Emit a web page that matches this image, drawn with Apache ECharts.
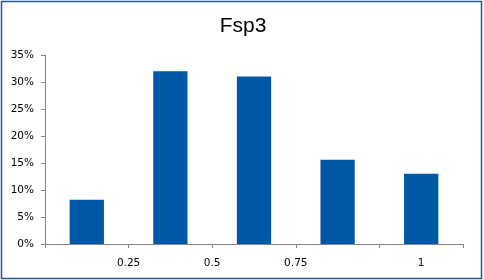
<!DOCTYPE html>
<html>
<head>
<meta charset="utf-8">
<script src="https://cdn.jsdelivr.net/npm/echarts@6/dist/echarts.min.js"></script>
<style>
html,body{margin:0;padding:0;background:#fff;}
#chart{width:484px;height:280px;}
</style>
</head>
<body>
<div id="chart"></div>
<script>
var categories = ['bin1', 'bin2', 'bin3', 'bin4', 'bin5'];
var values = [0.082, 0.320, 0.310, 0.156, 0.130];
var xTickLabels = ['0.25', '0.5', '0.75', '1'];
var xTickValues = [1, 2, 3, 4.5];
var yTicks = [0, 0.05, 0.10, 0.15, 0.20, 0.25, 0.30, 0.35];

var chart = echarts.init(document.getElementById('chart'));
var labelFont = { fontFamily: 'DejaVu Sans', fontSize: 10.5, color: '#000' };
chart.setOption({
  animation: false,
  title: {
    text: 'Fsp3',
    left: 238,
    top: 11,
    textAlign: 'center',
    textStyle: { fontFamily: 'Liberation Sans', fontSize: 21, fontWeight: 'normal', color: '#000' }
  },
  graphic: [{
    type: 'rect',
    shape: { x: 1.5, y: 1.5, width: 480, height: 277 },
    style: { fill: 'none', stroke: '#1f5b9c', lineWidth: 1.5 },
    silent: true
  }],
  grid: { left: 45, right: 21, top: 55, bottom: 36 },
  xAxis: [{
    type: 'category',
    data: categories,
    boundaryGap: true,
    axisLine: { lineStyle: { color: '#868686', width: 1 } },
    axisTick: { show: true, length: 4, lineStyle: { color: '#868686' } },
    axisLabel: { show: false },
    splitLine: { show: false }
  }, {
    type: 'value',
    min: 0,
    max: categories.length,
    position: 'bottom',
    axisLine: { show: false },
    axisTick: { show: false },
    splitLine: { show: false },
    axisLabel: Object.assign({
      show: true,
      margin: 14,
      customValues: xTickValues,
      formatter: function (v) {
        var i = xTickValues.indexOf(v);
        return i >= 0 ? xTickLabels[i] : '';
      }
    }, labelFont)
  }],
  yAxis: {
    type: 'value',
    min: yTicks[0],
    max: yTicks[yTicks.length - 1],
    interval: 0.05,
    axisLine: { show: true, lineStyle: { color: '#868686', width: 1 } },
    axisTick: { show: true, length: 4, lineStyle: { color: '#868686' } },
    splitLine: { show: false },
    axisLabel: Object.assign({
      margin: 11,
      formatter: function (v) { return Math.round(v * 100) + '%'; }
    }, labelFont)
  },
  series: [{
    type: 'bar',
    xAxisIndex: 0,
    data: values,
    barCategoryGap: '59%',
    itemStyle: { color: '#0057a6' }
  }]
});
</script>
</body>
</html>
